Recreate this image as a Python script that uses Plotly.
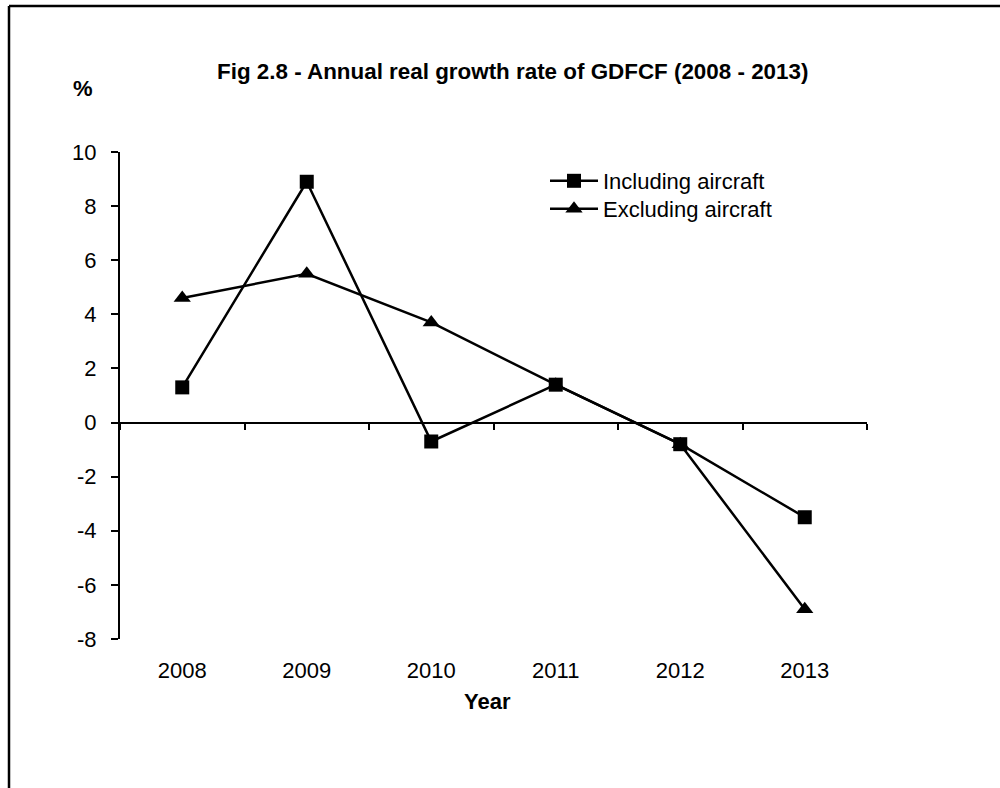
import plotly.graph_objects as go

years = ["2008", "2009", "2010", "2011", "2012", "2013"]
including_aircraft = [1.3, 8.9, -0.7, 1.4, -0.8, -3.5]
excluding_aircraft = [4.6, 5.5, 3.7, 1.4, -0.8, -6.9]
y_ticks = [-8, -6, -4, -2, 0, 2, 4, 6, 8, 10]
y_tick_text = ["-8", "-6", "-4", "-2", "0", "2", "4", "6", "8", "10"]

NARROW = "Liberation Sans Narrow, Arial Narrow, Liberation Sans, Arial, sans-serif"
REG = "Liberation Sans, Arial, sans-serif"

W, H = 1000, 788
L, R, T, B = 120, 133, 152, 149
PW, PH = W - L - R, H - T - B

fig = go.Figure()
fig.add_trace(go.Scatter(
    x=years, y=including_aircraft, name="Including aircraft",
    mode="lines+markers", xaxis="x", legend="legend",
    line=dict(color="black", width=2.5),
    marker=dict(symbol="square", size=14, color="black"),
))
fig.add_trace(go.Scatter(
    x=years, y=excluding_aircraft, name="Excluding aircraft",
    mode="lines+markers", xaxis="x2", legend="legend2",
    line=dict(color="black", width=2.5),
    marker=dict(symbol="triangle-up", size=15, color="black"),
))

ymin, ymax = y_ticks[0], y_ticks[-1]
zero_frac = (0 - ymin) / (ymax - ymin)

def legend_at(px_x, px_ycenter):
    return dict(
        x=(px_x - L) / PW, y=(H - B - px_ycenter) / PH,
        xanchor="left", yanchor="middle",
        font=dict(family=NARROW, size=22, color="black"),
        bgcolor="rgba(0,0,0,0)", itemwidth=48, tracegroupgap=0,
    )

fig.update_layout(
    width=W, height=H,
    margin=dict(l=L, r=R, t=T, b=B),
    paper_bgcolor="white", plot_bgcolor="white",
    showlegend=True,
    legend=legend_at(545, 181),
    legend2=legend_at(545, 209),
    xaxis=dict(
        type="category", categoryorder="array", categoryarray=years,
        range=[-0.5, len(years) - 0.5],
        showline=False, ticks="", showgrid=False, zeroline=False,
        tickfont=dict(family=REG, size=22, color="black"),
        ticklabelstandoff=16,
    ),
    xaxis2=dict(
        type="category", categoryorder="array", categoryarray=years,
        range=[-0.5, len(years) - 0.5],
        overlaying="x", anchor="free", position=zero_frac,
        showline=True, linecolor="black", linewidth=2,
        ticks="outside", tickson="boundaries", ticklen=6, tickwidth=1.5,
        tickcolor="black", showticklabels=False, showgrid=False, zeroline=False,
    ),
    yaxis=dict(
        range=[ymin, ymax], tickvals=y_ticks, ticktext=y_tick_text,
        showline=True, linecolor="black", linewidth=2,
        ticks="outside", ticklen=7, tickwidth=1.5, tickcolor="black",
        showgrid=False, zeroline=False,
        tickfont=dict(family=REG, size=22, color="black"),
        ticklabelstandoff=10,
    ),
    annotations=[
        dict(text="<b>Fig 2.8 - Annual real growth rate of GDFCF (2008 - 2013)</b>",
             xref="paper", yref="paper", x=512 / W, y=1 - 71 / H,
             xanchor="center", yanchor="middle", showarrow=False,
             font=dict(family=NARROW, size=22.4, color="black")),
        dict(text="<b>%</b>", xref="paper", yref="paper",
             x=83 / W, y=1 - 88 / H, xanchor="center", yanchor="middle",
             showarrow=False, font=dict(family=NARROW, size=22, color="black")),
        dict(text="<b>Year</b>", xref="paper", yref="paper",
             x=487 / W, y=1 - 701 / H, xanchor="center", yanchor="middle",
             showarrow=False, font=dict(family=NARROW, size=22, color="black")),
    ],
    shapes=[
        dict(type="line", xref="paper", yref="paper",
             x0=9 / W, x1=1, y0=1 - 6 / H, y1=1 - 6 / H,
             line=dict(color="black", width=2.5)),
        dict(type="line", xref="paper", yref="paper",
             x0=9 / W, x1=9 / W, y0=0, y1=1 - 6 / H,
             line=dict(color="black", width=2.5)),
    ],
)
# convert annotation/shape coordinates to paper domain relative to plot area
for a in fig.layout.annotations:
    px_x = a.x * W
    px_y = (1 - a.y) * H
    a.x = (px_x - L) / PW
    a.y = (H - B - px_y) / PH
for s in fig.layout.shapes:
    for k in ("x0", "x1"):
        setattr(s, k, (getattr(s, k) * W - L) / PW)
    for k in ("y0", "y1"):
        py = (1 - getattr(s, k)) * H
        setattr(s, k, (H - B - py) / PH)

fig.write_html(
    "out.html",
    config={"displayModeBar": False},
    post_script="document.body.style.margin='0';document.body.style.overflow='hidden';",
)
